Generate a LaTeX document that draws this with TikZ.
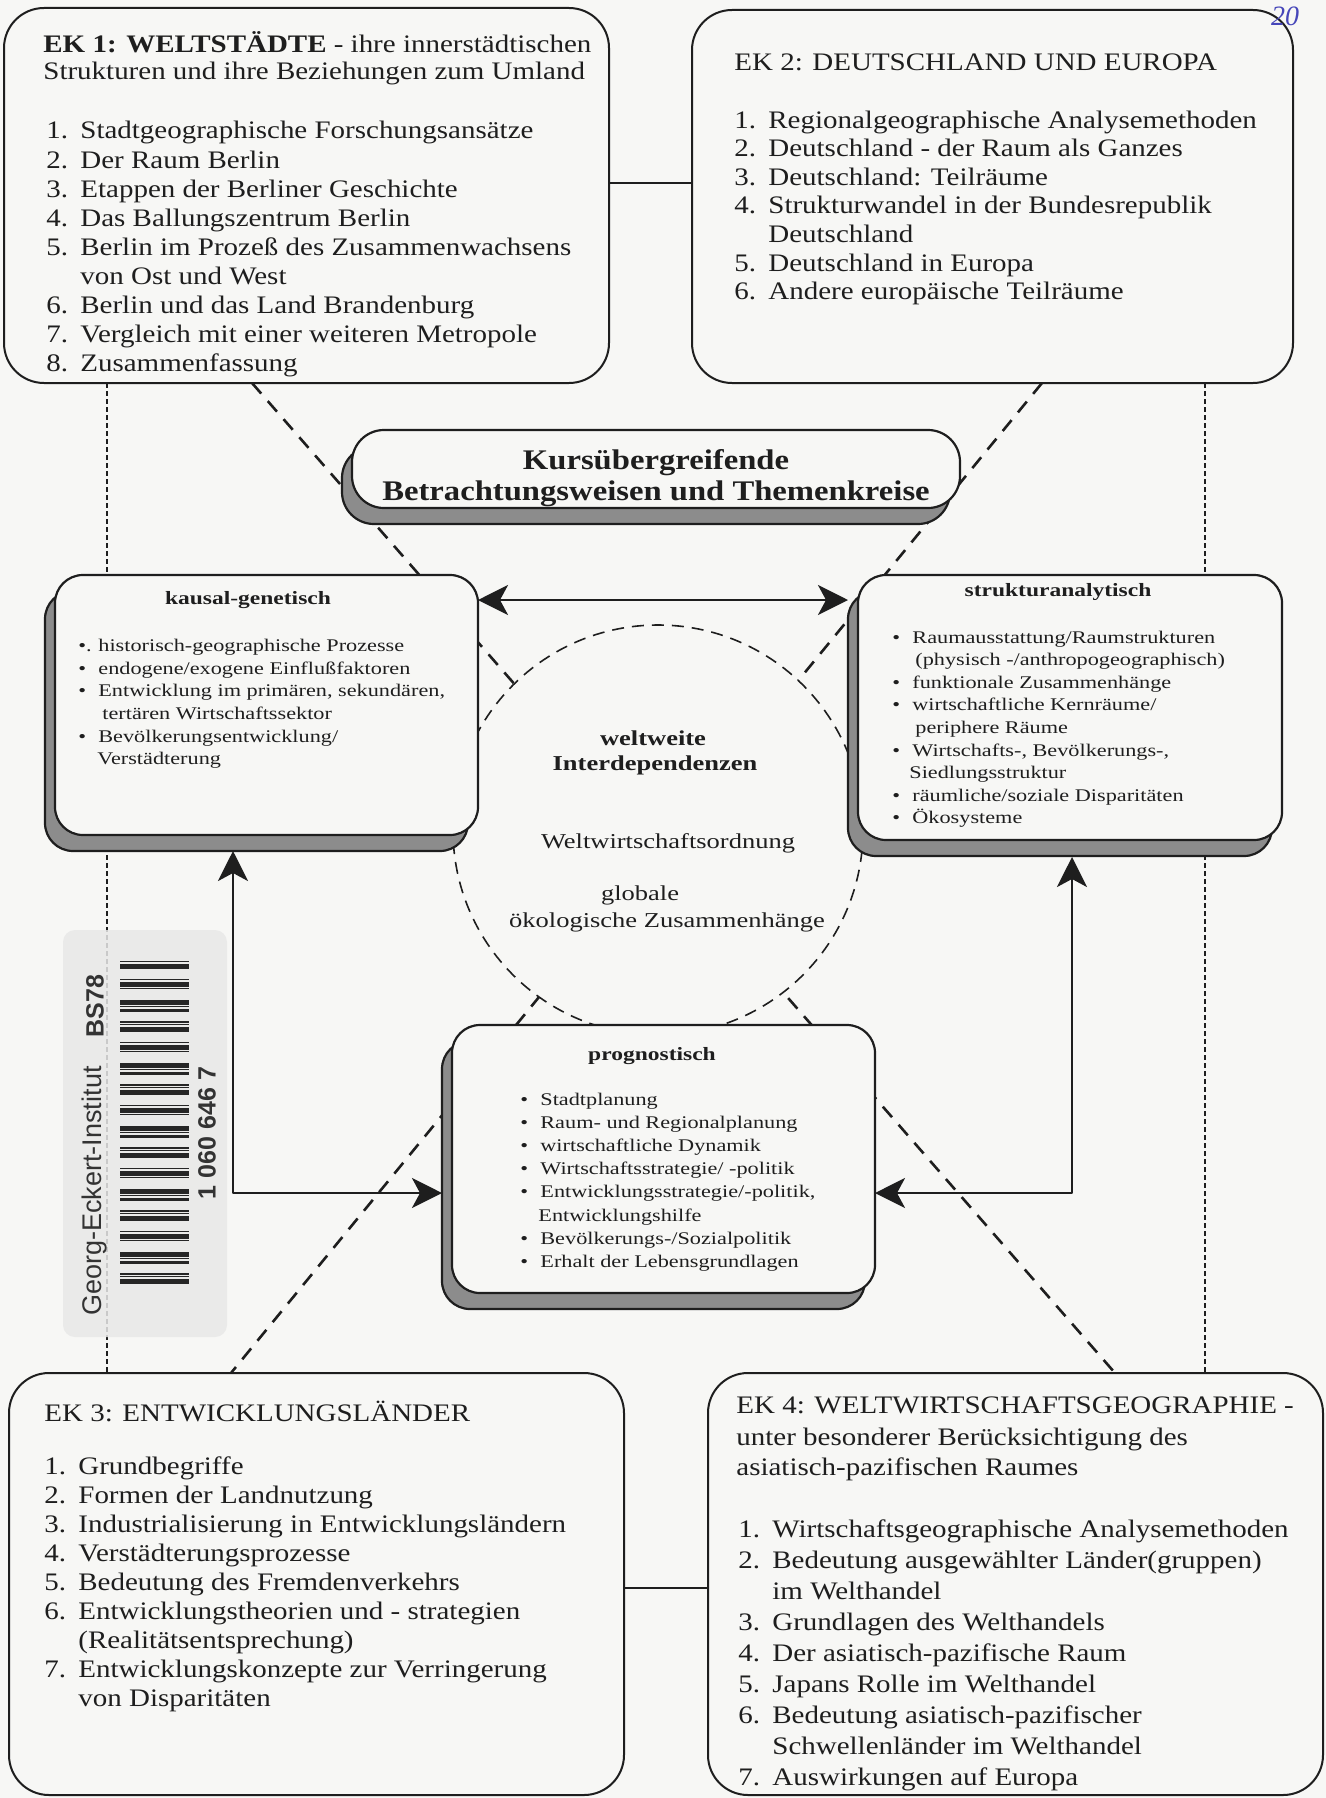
\documentclass[tikz,border=0pt]{standalone}
\usepackage{fontspec}
\setmainfont{Liberation Serif}
\newfontfamily\ekfont{Liberation Serif}[FakeStretch=1.15]
\newfontfamily\midfont{Liberation Serif}[FakeStretch=1.25]
\newfontfamily\stickfont{Liberation Sans}
\usetikzlibrary{arrows.meta,shadows,fit}
\definecolor{paper}{RGB}{247,247,245}
\definecolor{ink}{RGB}{30,30,30}
\newcommand{\nitem}[2]{\makebox[17pt][l]{#1}#2}
\newcommand{\cont}[1]{\hspace*{17pt}#1}
\begin{document}
\begin{tikzpicture}[x=0.5pt,y=-0.5pt,line join=round,
  ekbox/.style={draw=ink,line width=1pt,rounded corners=20pt,fill=paper,inner sep=0pt},
  midbox/.style={draw=ink,line width=1.1pt,rounded corners=14pt,fill=paper,inner sep=0pt,
    drop shadow={shadow xshift=-5pt,shadow yshift=-8pt,fill=black!45,draw=ink,line width=1.1pt,opacity=1}},
  ekt/.style={font=\ekfont\fontsize{12.6}{14}\selectfont,text=ink,inner sep=0pt,anchor=base west},
  midt/.style={font=\midfont\fontsize{8.9}{11}\selectfont,text=ink,inner sep=0pt,anchor=base west},
  midtitle/.style={font=\midfont\bfseries\fontsize{9.4}{11}\selectfont,text=ink,inner sep=0pt,anchor=base},
  circt/.style={font=\midfont\fontsize{10.6}{12}\selectfont,text=ink,inner sep=0pt,anchor=base},
  xline/.style={draw=ink,line width=1.3pt,dash pattern=on 7pt off 5pt},
  circline/.style={draw=ink,line width=0.8pt,dash pattern=on 6pt off 4pt,fill=paper},
  vdot/.style={draw=ink,line width=1.1pt,dash pattern=on 2.5pt off 1.5pt},
  conn/.style={draw=ink,line width=1.4pt},
  bigtip/.tip={Stealth[length=15pt,width=15pt,inset=4pt]}]

\useasboundingbox (0,0) rectangle (1326,1798);
\fill[paper] (0,0) rectangle (1326,1798);

% ---------- background connectors ----------
\coordinate (vl1) at (107,383); \coordinate (vl2) at (107,1373);
\coordinate (vr1) at (1205,383); \coordinate (vr2) at (1205,1373);
\draw[vdot] (vl1) -- (vl2);
\draw[vdot] (vr1) -- (vr2);
\coordinate (a1) at (252,383); \coordinate (a2) at (1115,1373);
\coordinate (b1) at (1042,383); \coordinate (b2) at (231,1373);
\draw[xline] (a1) -- (a2);
\draw[xline] (b1) -- (b2);
\coordinate (cc) at (658,830);
\draw[circline] (cc) circle[radius=205];

% ---------- barcode sticker ----------
\node[fit={(63,930)(227,1337)},fill=black!9,fill opacity=0.85,rounded corners=6pt,inner sep=0pt] (sticker) {};
\foreach \i in {0,...,109}{
  \pgfmathtruncatemacro\on{mod(\i*\i+13*\i,7)<4 ? 1 : 0}
  \pgfmathtruncatemacro\w{1+mod(\i*5,3)}
  \ifnum\on=1 \fill[black!85] (120,{961+3.0*\i}) rectangle (189,{961+3.0*\i+\w});\fi
}
\node[rotate=90,font=\stickfont\fontsize{13.5}{14}\selectfont,text=black!80,inner sep=0pt] (gei) at (95,1191) {Georg-Eckert-Institut};
\node[rotate=90,font=\stickfont\bfseries\fontsize{12.5}{13}\selectfont,text=black!80,inner sep=0pt] (bs) at (95,1006) {BS78};
\node[rotate=90,font=\stickfont\bfseries\fontsize{12.5}{13}\selectfont,text=black!80,inner sep=0pt] (bcn) at (207,1133) {1 060 646 7};

% ---------- boxes ----------
\node[ekbox,fit={(4,8)(609,383)}] (ek1) {};
\node[ekbox,fit={(692,10)(1293,383)}] (ek2) {};
\node[ekbox,fit={(9,1373)(624,1795)}] (ek3) {};
\node[ekbox,fit={(708,1373)(1323,1795)}] (ek4) {};
\node[midbox,rounded corners=16pt,fit={(352,430)(960,508)}] (titlebox) {};
\node[midbox,fit={(55,575)(478,835)}] (kausal) {};
\node[midbox,fit={(858,575)(1282,840)}] (struktur) {};
\node[midbox,fit={(452,1025)(875,1293)}] (progn) {};

% ---------- links and arrows ----------
\draw[conn,line width=1pt] (ek1.east |- 0,183) -- (ek2.west |- 0,183);
\draw[conn,line width=1pt] (ek3.east |- 0,1588) -- (ek4.west |- 0,1588);
\coordinate (ke) at (478,600); \coordinate (se) at (848,600);
\draw[conn,bigtip-bigtip] (ke) -- (se);
\coordinate (kd) at (233,851); \coordinate (pl) at (442,1193);
\draw[conn,bigtip-bigtip] (kd) |- (pl);
\coordinate (sd) at (1072,857); \coordinate (pr) at (875,1193);
\draw[conn,bigtip-bigtip] (sd) |- (pr);

% ---------- EK 1 ----------
\node[ekt] (ek1t1) at (43,53) {\textbf{EK 1: WELTSTÄDTE} - ihre innerstädtischen};
\node[ekt] (ek1t2) at (43,80) {Strukturen und ihre Beziehungen zum Umland};
\foreach \t [count=\i from 0] in {
  {\nitem{1.}{Stadtgeographische Forschungsansätze}},
  {\nitem{2.}{Der Raum Berlin}},
  {\nitem{3.}{Etappen der Berliner Geschichte}},
  {\nitem{4.}{Das Ballungszentrum Berlin}},
  {\nitem{5.}{Berlin im Prozeß des Zusammenwachsens}},
  {\cont{von Ost und West}},
  {\nitem{6.}{Berlin und das Land Brandenburg}},
  {\nitem{7.}{Vergleich mit einer weiteren Metropole}},
  {\nitem{8.}{Zusammenfassung}}}
  \node[ekt] (ek1i\i) at (46,{139+29.1*\i}) {\t};

% ---------- EK 2 ----------
\node[ekt] (ek2t) at (734,71) {EK 2: DEUTSCHLAND UND EUROPA};
\foreach \t [count=\i from 0] in {
  {\nitem{1.}{Regionalgeographische Analysemethoden}},
  {\nitem{2.}{Deutschland - der Raum als Ganzes}},
  {\nitem{3.}{Deutschland: Teilräume}},
  {\nitem{4.}{Strukturwandel in der Bundesrepublik}},
  {\cont{Deutschland}},
  {\nitem{5.}{Deutschland in Europa}},
  {\nitem{6.}{Andere europäische Teilräume}}}
  \node[ekt] (ek2i\i) at (734,{128+28.6*\i}) {\t};

% ---------- EK 3 ----------
\node[ekt] (ek3t) at (44,1421) {EK 3: ENTWICKLUNGSLÄNDER};
\foreach \t [count=\i from 0] in {
  {\nitem{1.}{Grundbegriffe}},
  {\nitem{2.}{Formen der Landnutzung}},
  {\nitem{3.}{Industrialisierung in Entwicklungsländern}},
  {\nitem{4.}{Verstädterungsprozesse}},
  {\nitem{5.}{Bedeutung des Fremdenverkehrs}},
  {\nitem{6.}{Entwicklungstheorien und - strategien}},
  {\cont{(Realitätsentsprechung)}},
  {\nitem{7.}{Entwicklungskonzepte zur Verringerung}},
  {\cont{von Disparitäten}}}
  \node[ekt] (ek3i\i) at (44,{1474+29*\i}) {\t};

% ---------- EK 4 ----------
\node[ekt] (ek4t1) at (736,1413) {EK 4: WELTWIRTSCHAFTSGEOGRAPHIE -};
\node[ekt] (ek4t2) at (736,1445) {unter besonderer Berücksichtigung des};
\node[ekt] (ek4t3) at (736,1475) {asiatisch-pazifischen Raumes};
\foreach \t [count=\i from 0] in {
  {\nitem{1.}{Wirtschaftsgeographische Analysemethoden}},
  {\nitem{2.}{Bedeutung ausgewählter Länder(gruppen)}},
  {\cont{im Welthandel}},
  {\nitem{3.}{Grundlagen des Welthandels}},
  {\nitem{4.}{Der asiatisch-pazifische Raum}},
  {\nitem{5.}{Japans Rolle im Welthandel}},
  {\nitem{6.}{Bedeutung asiatisch-pazifischer}},
  {\cont{Schwellenländer im Welthandel}},
  {\nitem{7.}{Auswirkungen auf Europa}}}
  \node[ekt] (ek4i\i) at (738,{1537+31*\i}) {\t};

% ---------- title box ----------
\node[ekt,anchor=base,font=\ekfont\bfseries\fontsize{14.2}{15}\selectfont] (tt1) at (656,469) {Kursübergreifende};
\node[ekt,anchor=base,font=\ekfont\bfseries\fontsize{14.2}{15}\selectfont] (tt2) at (656,500) {Betrachtungsweisen und Themenkreise};

% ---------- kausal-genetisch ----------
\node[midtitle] (kt) at (248,604) {kausal-genetisch};
\node[midt] (kb1) at (78,651) {•.};  \node[midt] (k1) at (98,651) {historisch-geographische Prozesse};
\node[midt] (kb2) at (78,674) {•};   \node[midt] (k2) at (98,674) {endogene/exogene Einflußfaktoren};
\node[midt] (kb3) at (78,696) {•};   \node[midt] (k3) at (98,696) {Entwicklung im primären, sekundären,};
\node[midt] (k4) at (102,719) {tertären Wirtschaftssektor};
\node[midt] (kb5) at (78,742) {•};   \node[midt] (k5) at (98,742) {Bevölkerungsentwicklung/};
\node[midt] (k6) at (97,764) {Verstädterung};

% ---------- strukturanalytisch ----------
\node[midtitle] (st) at (1058,596) {strukturanalytisch};
\node[midt] (sb1) at (892,643) {•}; \node[midt] (s1) at (912,643) {Raumausstattung/Raumstrukturen};
\node[midt] (s2) at (915,665.6) {(physisch -/anthropogeographisch)};
\node[midt] (sb3) at (892,688.2) {•}; \node[midt] (s3) at (912,688.2) {funktionale Zusammenhänge};
\node[midt] (sb4) at (892,710.8) {•}; \node[midt] (s4) at (912,710.8) {wirtschaftliche Kernräume/};
\node[midt] (s5) at (915,733.4) {periphere Räume};
\node[midt] (sb6) at (892,756) {•}; \node[midt] (s6) at (912,756) {Wirtschafts-, Bevölkerungs-,};
\node[midt] (s7) at (909,778.6) {Siedlungsstruktur};
\node[midt] (sb8) at (892,801.2) {•}; \node[midt] (s8) at (912,801.2) {räumliche/soziale Disparitäten};
\node[midt] (sb9) at (892,823.8) {•}; \node[midt] (s9) at (912,823.8) {Ökosysteme};

% ---------- prognostisch ----------
\node[midtitle] (pt) at (652,1060) {prognostisch};
\foreach \b/\x/\t [count=\i from 0] in {
  1/540/{Stadtplanung},
  1/540/{Raum- und Regionalplanung},
  1/540/{wirtschaftliche Dynamik},
  1/540/{Wirtschaftsstrategie/ -politik},
  1/540/{Entwicklungsstrategie/-politik,},
  0/538/{Entwicklungshilfe},
  1/540/{Bevölkerungs-/Sozialpolitik},
  1/540/{Erhalt der Lebensgrundlagen}}{
  \node[midt] (p\i) at (\x,{1105+23.2*\i}) {\t};
  \ifnum\b=1 \node[midt] (pb\i) at (520,{1105+23.2*\i}) {•};\fi
}

% ---------- circle texts ----------
\node[circt,font=\midfont\bfseries\fontsize{10.6}{12}\selectfont] (c1) at (653,745) {weltweite};
\node[circt,font=\midfont\bfseries\fontsize{10.6}{12}\selectfont] (c2) at (655,770) {Interdependenzen};
\node[circt] (c3) at (668,848) {Weltwirtschaftsordnung};
\node[circt] (c4) at (640,900) {globale};
\node[circt] (c5) at (667,927) {ökologische Zusammenhänge};

% ---------- handwritten page mark ----------
\node[font=\itshape\fontsize{14}{14}\selectfont,text=blue!45!gray,inner sep=0pt] (hw) at (1285,16) {20};
\end{tikzpicture}
\end{document}
